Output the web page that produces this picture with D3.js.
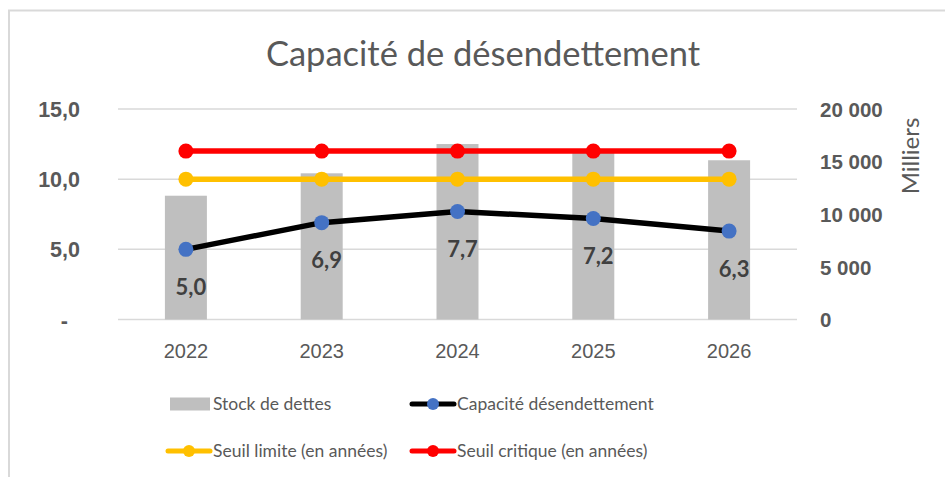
<!DOCTYPE html>
<html>
<head>
<meta charset="utf-8">
<script src="https://cdn.jsdelivr.net/npm/d3@7/dist/d3.min.js"></script>
<style>
  body { margin: 0; background: #fff; }
  svg { display: block; font-family: Lato, "Open Sans", sans-serif; }
</style>
</head>
<body>
<div id="chart"></div>
<script>
// data
var years = ["2022", "2023", "2024", "2025", "2026"];
var stock = [11760, 13890, 16670, 16000, 15130];       // Stock de dettes (milliers)
var capacite = [5.0, 6.9, 7.7, 7.2, 6.3];             // Capacité désendettement
var seuilLimite = [10, 10, 10, 10, 10];
var seuilCritique = [12, 12, 12, 12, 12];
var leftTicks = [0, 5, 10, 15];
var rightTicks = [0, 5000, 10000, 15000, 20000];

var width = 945, height = 477;
var margin = { top: 109, right: 148, bottom: 157.5, left: 118 };
var chart_width = width - margin.left - margin.right;
var chart_height = height - margin.top - margin.bottom;
var grey = '#595959';

var svg = d3.select('#chart')
    .append('svg')
    .attr('width', width)
    .attr('height', height);

// frame
svg.append('path')
    .attr('d', 'M9,477V10.5H945')
    .attr('fill', 'none')
    .attr('stroke', '#d9d9d9')
    .attr('stroke-width', 2);

svg.append('text')
    .attr('x', 483)
    .attr('y', 66)
    .attr('text-anchor', 'middle')
    .attr('fill', grey)
    .style('font-size', '34.5px')
    .text('Capacité de désendettement');

var g = svg.append('g')
    .attr('transform', 'translate(' + margin.left + ',' + margin.top + ')');

var x = d3.scaleBand()
    .domain(years)
    .range([0, chart_width]);

var yL = d3.scaleLinear()
    .domain([0, 15])
    .range([chart_height, 0]);

var yR = d3.scaleLinear()
    .domain([0, 20000])
    .range([chart_height, 0]);

// gridlines
g.append('g')
    .selectAll('line')
    .data(leftTicks)
    .enter()
    .append('line')
    .attr('x1', 0)
    .attr('x2', chart_width)
    .attr('y1', function (d) { return yL(d); })
    .attr('y2', function (d) { return yL(d); })
    .attr('stroke', '#d9d9d9')
    .attr('stroke-width', 1.5);

// left axis
var leftAxis = g.append('g')
    .call(d3.axisLeft(yL)
        .tickValues(leftTicks)
        .tickSize(0)
        .tickPadding(38)
        .tickFormat(function (d) { return d === 0 ? '-' : d3.format('.1f')(d).replace('.', ','); }));
leftAxis.select('.domain').remove();
leftAxis.selectAll('text')
    .attr('fill', grey)
    .style('font-size', '21.5px')
    .style('font-weight', 'bold')
    .attr('dy', '0.35em')
    .filter(function (d) { return d === 0; })
    .attr('dx', -12);

// right axis
var rightAxis = g.append('g')
    .attr('transform', 'translate(' + chart_width + ',0)')
    .call(d3.axisRight(yR)
        .tickValues(rightTicks)
        .tickSize(0)
        .tickPadding(23)
        .tickFormat(function (d) { return d3.format(',')(d).replace(/,/g, ' '); }));
rightAxis.select('.domain').remove();
rightAxis.selectAll('text')
    .attr('fill', grey)
    .style('font-size', '20.5px')
    .style('font-weight', 'bold')
    .attr('dy', '0.35em');

svg.append('text')
    .attr('transform', 'translate(919,156) rotate(-90)')
    .attr('text-anchor', 'middle')
    .attr('fill', grey)
    .style('font-size', '24px')
    .text('Milliers');

// x axis labels
var xAxis = g.append('g')
    .attr('transform', 'translate(0,' + chart_height + ')')
    .call(d3.axisBottom(x).tickSize(0).tickPadding(24));
xAxis.select('.domain').remove();
xAxis.selectAll('text')
    .attr('fill', grey)
    .style('font-size', '20px');

// bars
var barW = 42;
g.selectAll('rect.bar')
    .data(stock)
    .enter()
    .append('rect')
    .attr('class', 'bar')
    .attr('x', function (d, i) { return x(years[i]) + x.bandwidth() / 2 - barW / 2; })
    .attr('y', function (d) { return yR(d); })
    .attr('width', barW)
    .attr('height', function (d) { return chart_height - yR(d); })
    .attr('fill', '#bfbfbf');

function cx(d, i) { return x(years[i]) + x.bandwidth() / 2; }

function drawSeries(values, lineColor, markColor, lw) {
    var line = d3.line()
        .x(cx)
        .y(function (d) { return yL(d); });
    g.append('path')
        .datum(values)
        .attr('d', line)
        .attr('fill', 'none')
        .attr('stroke', lineColor)
        .attr('stroke-width', lw)
        .attr('stroke-linejoin', 'round');
    g.append('g')
        .selectAll('circle')
        .data(values)
        .enter()
        .append('circle')
        .attr('cx', cx)
        .attr('cy', function (d) { return yL(d); })
        .attr('r', 7.5)
        .attr('fill', markColor);
}

drawSeries(capacite, '#000000', '#4472c4', 5.5);
drawSeries(seuilLimite, '#ffc000', '#ffc000', 5.5);
drawSeries(seuilCritique, '#ff0000', '#ff0000', 5.5);

// data labels
g.selectAll('text.lbl')
    .data(capacite)
    .enter()
    .append('text')
    .attr('class', 'lbl')
    .attr('x', function (d, i) { return cx(d, i) + 5; })
    .attr('y', function (d) { return yL(d) + 38; })
    .attr('dy', '0.35em')
    .attr('text-anchor', 'middle')
    .attr('fill', '#404040')
    .style('font-size', '22px')
    .style('font-weight', 'bold')
    .text(function (d) { return d3.format('.1f')(d).replace('.', ','); });

// legend
var legend = [
    { name: 'Stock de dettes', type: 'bar', line: '#bfbfbf', mark: '#bfbfbf', x: 170, y: 404 },
    { name: 'Capacité désendettement', type: 'line', line: '#000000', mark: '#4472c4', x: 412, y: 404 },
    { name: 'Seuil limite (en années)', type: 'line', line: '#ffc000', mark: '#ffc000', x: 168, y: 451 },
    { name: 'Seuil critique (en années)', type: 'line', line: '#ff0000', mark: '#ff0000', x: 412, y: 451 }
];

var lg = svg.selectAll('g.legend')
    .data(legend)
    .enter()
    .append('g')
    .attr('class', 'legend')
    .attr('transform', function (d) { return 'translate(' + d.x + ',' + d.y + ')'; });

lg.filter(function (d) { return d.type === 'bar'; })
    .append('rect')
    .attr('x', 0)
    .attr('y', -6.5)
    .attr('width', 40)
    .attr('height', 13)
    .attr('fill', function (d) { return d.line; });

var ll = lg.filter(function (d) { return d.type === 'line'; });
ll.append('line')
    .attr('x1', 0)
    .attr('x2', 42)
    .attr('stroke', function (d) { return d.line; })
    .attr('stroke-width', 5)
    .attr('stroke-linecap', 'round');
ll.append('circle')
    .attr('cx', 21)
    .attr('r', 6)
    .attr('fill', function (d) { return d.mark; });

lg.append('text')
    .attr('x', function (d) { return d.type === 'bar' ? 43 : 45; })
    .attr('dy', '0.35em')
    .attr('fill', grey)
    .style('font-size', '17.5px')
    .text(function (d) { return d.name; });
</script>
</body>
</html>
